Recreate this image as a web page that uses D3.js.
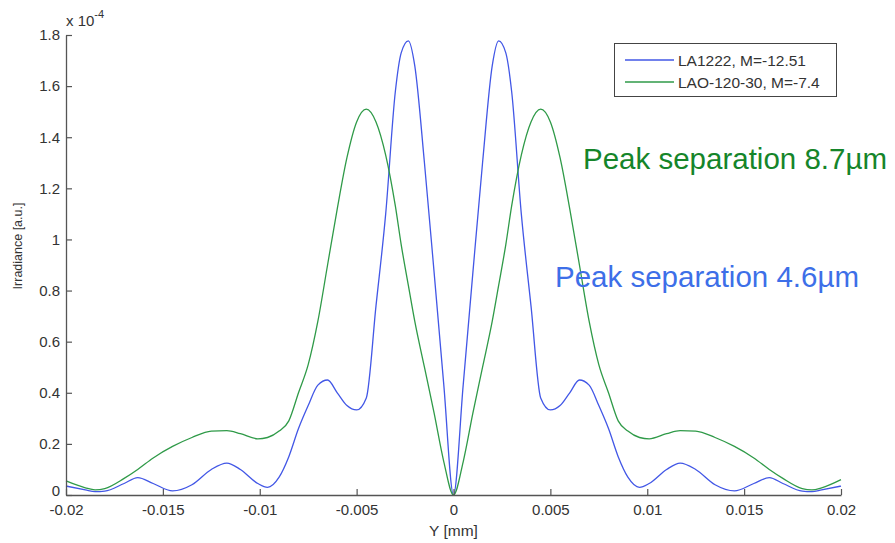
<!DOCTYPE html>
<html><head><meta charset="utf-8">
<script src="https://cdn.jsdelivr.net/npm/d3@7/dist/d3.min.js"></script>
<style>body{margin:0;background:#fff}svg{display:block}text{font-family:"Liberation Sans",Arial,sans-serif}</style>
</head><body><div id="chart"></div>
<script>
// Y position [mm]
const yPos = [-0.020,-0.019,-0.0185,-0.018,-0.017,-0.0163,-0.0155,-0.0145,-0.0135,-0.0125,-0.0117,-0.011,-0.0101,-0.0096,-0.009,-0.0085,-0.008,-0.0075,-0.007,-0.0065,-0.006,-0.0055,-0.005,-0.0045,-0.004,-0.0035,-0.003,-0.0027,-0.00233,-0.002,-0.0015,-0.001,-0.0005,0,
  0.0005,0.001,0.0015,0.002,0.00233,0.0027,0.003,0.0035,0.004,0.0045,0.005,0.0055,0.006,0.0065,0.007,0.0075,0.008,0.0085,0.009,0.0096,0.0101,0.011,0.0117,0.0125,0.0135,0.0145,0.0155,0.0163,0.017,0.018,0.0185,0.019,0.020];
// Irradiance x 1e-4, LA1222 M=-12.51
const la1222 = [0.035,0.02,0.013,0.015,0.045,0.068,0.045,0.016,0.04,0.10,0.125,0.10,0.045,0.03,0.07,0.15,0.26,0.35,0.43,0.45,0.40,0.35,0.333,0.38,0.74,1.10,1.58,1.73,1.777,1.68,1.30,0.87,0.43,0,
  0.43,0.87,1.30,1.68,1.777,1.73,1.58,1.10,0.74,0.38,0.333,0.35,0.40,0.45,0.43,0.35,0.26,0.15,0.07,0.03,0.045,0.10,0.125,0.10,0.04,0.016,0.045,0.068,0.045,0.015,0.013,0.02,0.035];
// Irradiance x 1e-4, LAO-120-30 M=-7.4
const lao12030 = [0.055,0.028,0.02,0.025,0.065,0.10,0.145,0.19,0.225,0.25,0.252,0.24,0.22,0.225,0.25,0.29,0.40,0.51,0.68,0.90,1.12,1.32,1.46,1.51,1.46,1.33,1.13,0.98,0.82,0.68,0.50,0.32,0.13,0,
  0.13,0.32,0.50,0.68,0.82,0.98,1.13,1.33,1.46,1.51,1.46,1.32,1.12,0.90,0.68,0.51,0.40,0.29,0.25,0.225,0.22,0.24,0.252,0.25,0.225,0.19,0.145,0.10,0.065,0.025,0.02,0.028,0.06];
const xTicks = [-0.02,-0.015,-0.01,-0.005,0,0.005,0.01,0.015,0.02];
const xTickLabels = ["-0.02","-0.015","-0.01","-0.005","0","0.005","0.01","0.015","0.02"];
const yTicks = [0,0.2,0.4,0.6,0.8,1,1.2,1.4,1.6,1.8];
const yTickLabels = ["0","0.2","0.4","0.6","0.8","1","1.2","1.4","1.6","1.8"];
const seriesNames = ["LA1222, M=-12.51","LAO-120-30, M=-7.4"];
const seriesColors = ["#4257e6","#2f9a48"];

const W=895,H=543;
const svg=d3.select("#chart").append("svg").attr("width",W).attr("height",H);
const x=d3.scaleLinear().domain([-0.02,0.02]).range([66,841]);
const y=d3.scaleLinear().domain([0,1.8]).range([495,35]);

const axisColor="#555", labelColor="#333";

const line=d3.line().x(d=>x(d[0])).y(d=>y(d[1])).curve(d3.curveMonotoneX);
const series=[la1222,lao12030];
series.forEach((s,i)=>{
  svg.append("path").datum(yPos.map((p,j)=>[p,s[j]]))
    .attr("d",line).attr("fill","none").attr("stroke",seriesColors[i]).attr("stroke-width",1.3);
});

// axes
const xAxis=d3.axisBottom(x).tickValues(xTicks).tickFormat((d,i)=>xTickLabels[i]).tickSizeInner(-6).tickSizeOuter(0).tickPadding(9);
const gx=svg.append("g").attr("transform","translate(0,495)").call(xAxis);
const yAxis=d3.axisLeft(y).tickValues(yTicks).tickFormat((d,i)=>yTickLabels[i]).tickSizeInner(-6).tickSizeOuter(0).tickPadding(6);
const gy=svg.append("g").attr("transform","translate(66,0)").call(yAxis);
[gx,gy].forEach(g=>{
  g.select(".domain").attr("stroke",axisColor).attr("stroke-width",1.3);
  g.selectAll(".tick line").attr("stroke",axisColor).attr("stroke-width",1.2);
  g.selectAll(".tick text").attr("fill",labelColor).attr("font-size",15).attr("font-family","Liberation Sans, Arial, sans-serif");
});
// lift the y "0" label a little so it clears the x "-0.02" label
gy.selectAll(".tick text").filter(d=>d===0).attr("dy","0.05em");

// exponent
const ex=svg.append("text").attr("x",66).attr("y",26).attr("fill",labelColor).attr("font-size",15);
ex.append("tspan").text("x 10");
ex.append("tspan").attr("dy",-8).attr("font-size",11).text("-4");

// axis labels
svg.append("text").attr("x",x(0)).attr("y",536).attr("text-anchor","middle").attr("fill",labelColor).attr("font-size",15.5).text("Y [mm]");
svg.append("text").attr("transform","translate(22,246) rotate(-90)").attr("text-anchor","middle").attr("fill",labelColor).attr("font-size",12.5).text("Irradiance [a.u.]");

// legend
const lg=svg.append("g");
lg.append("rect").attr("x",614.5).attr("y",43.5).attr("width",222).attr("height",53).attr("fill","#fff").attr("stroke","#444").attr("stroke-width",1);
seriesNames.forEach((n,i)=>{
  const yy=60+i*22;
  lg.append("line").attr("x1",625).attr("x2",674).attr("y1",yy).attr("y2",yy).attr("stroke",seriesColors[i]).attr("stroke-width",1.3);
  lg.append("text").attr("x",678).attr("y",yy+5.5).attr("fill",labelColor).attr("font-size",15.5).text(n);
});

// annotations
svg.append("text").attr("x",583).attr("y",169).attr("fill","#15852a").attr("font-size",29.5).text("Peak separation 8.7µm");
svg.append("text").attr("x",555).attr("y",287).attr("fill","#3d6fe8").attr("font-size",29.5).text("Peak separation 4.6µm");
</script></body></html>
